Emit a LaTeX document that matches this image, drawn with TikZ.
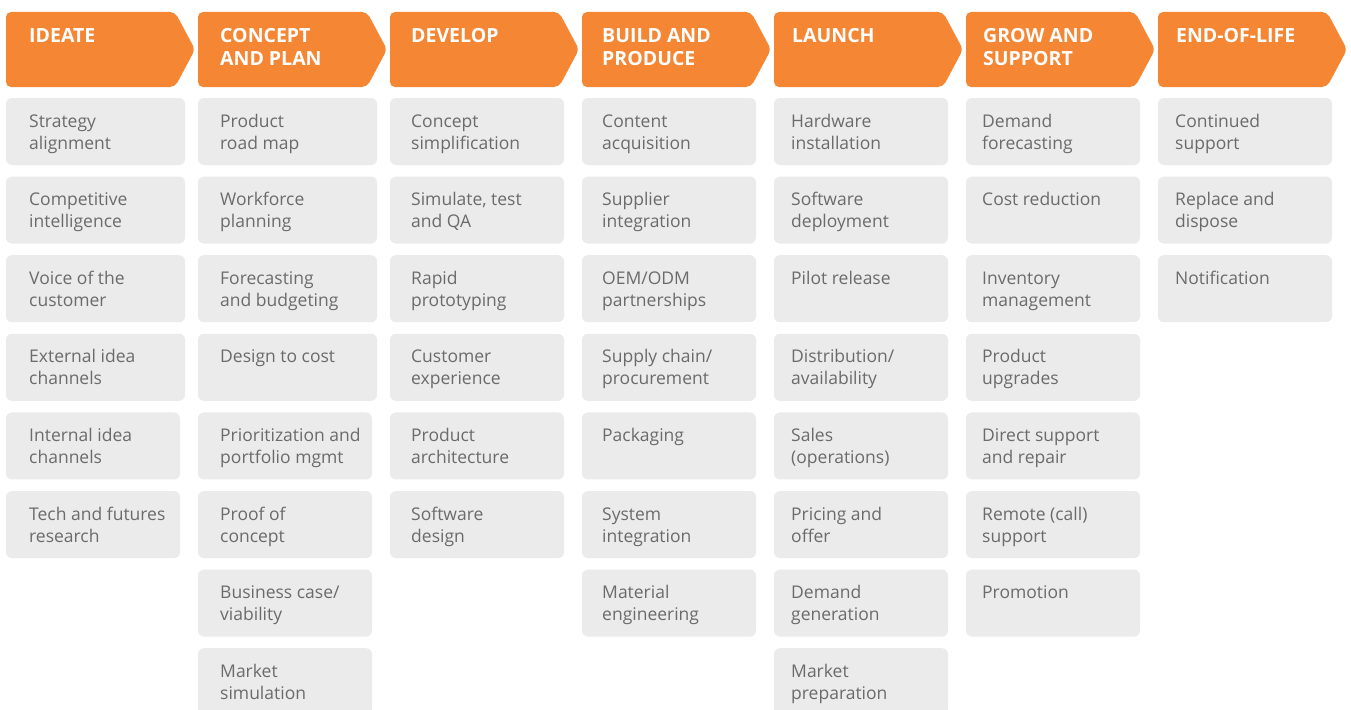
\documentclass[tikz,border=0pt]{standalone}
\usepackage{fontspec}
\setmainfont{Open Sans}
\definecolor{hdrorange}{HTML}{F58634}
\definecolor{cellgray}{HTML}{EBEBEB}
\definecolor{txtgray}{HTML}{6B6B6B}
\newcommand\twolines[2]{\vtop{\baselineskip=22pt\hbox{#1}\hbox{#2}}}
\newcommand\hdrlines[2]{\vtop{\baselineskip=23pt\hbox{#1}\hbox{#2}}}
\newcommand\mkcell[5]{%
  \pgfmathsetmacro\cx{6+192*(#1-1)}%
  \pgfmathsetmacro\tx{{29,220,411,602,791,982,1175}[#1-1]}%
  \pgfmathsetmacro\cy{98+78.6*(#2-1)}%
  \node[cellbox, minimum width=#3pt] (c#1r#2) at (\cx,\cy) {};
  \node[celltext] (t#1r#2) at (\tx,\cy+29) {\twolines{#4}{#5}};
}
\newcommand\mkhdr[3]{%
  \pgfmathsetmacro\hx{6+192*(#1-1)}%
  \pgfmathsetmacro\tx{{29,220,411,602,792,983,1176}[#1-1]}%
  \fill[hdrshape] (\hx,12) -- (\hx+169,12) -- (\hx+189,49.5) -- (\hx+169,87) -- (\hx,87) -- cycle;
  \node[hdrtext] (h#1) at (\tx,43) {\hdrlines{#2}{#3}};
}
\begin{document}
\begin{tikzpicture}[x=1pt,y=-1pt,
  cellbox/.style={fill=cellgray, rounded corners=6pt, minimum height=67pt, anchor=north west, inner sep=0pt, outer sep=0pt},
  celltext/.style={anchor=base west, inner sep=0pt, text=txtgray, font=\fontsize{17.5}{22}\selectfont},
  hdrshape/.style={fill=hdrorange, rounded corners=5pt},
  hdrtext/.style={anchor=base west, inner sep=0pt, text=white, font=\fontsize{19.5}{23}\selectfont\bfseries}]
\useasboundingbox (0,0) rectangle (1351,709);
\clip (0,0) rectangle (1351,709);
\fill[white] (0,0) rectangle (1351,709);
% headers
\mkhdr{1}{IDEATE}{}
\mkhdr{2}{CONCEPT}{AND PLAN}
\mkhdr{3}{DEVELOP}{}
\mkhdr{4}{BUILD AND}{PRODUCE}
\mkhdr{5}{LAUNCH}{}
\mkhdr{6}{GROW AND}{SUPPORT}
\mkhdr{7}{END-OF-LIFE}{}
% column 1
\mkcell{1}{1}{179}{Strategy}{alignment}
\mkcell{1}{2}{179}{Competitive}{intelligence}
\mkcell{1}{3}{179}{Voice of the}{customer}
\mkcell{1}{4}{179}{External idea}{channels}
\mkcell{1}{5}{174}{Internal idea}{channels}
\mkcell{1}{6}{174}{Tech and futures}{research}
% column 2
\mkcell{2}{1}{179}{Product}{road map}
\mkcell{2}{2}{179}{Workforce}{planning}
\mkcell{2}{3}{179}{Forecasting}{and budgeting}
\mkcell{2}{4}{179}{Design to cost}{}
\mkcell{2}{5}{174}{Prioritization and}{portfolio mgmt}
\mkcell{2}{6}{174}{Proof of}{concept}
\mkcell{2}{7}{174}{Business case/}{viability}
\mkcell{2}{8}{174}{Market}{simulation}
% column 3
\mkcell{3}{1}{174}{Concept}{simplification}
\mkcell{3}{2}{174}{Simulate, test}{and QA}
\mkcell{3}{3}{174}{Rapid}{prototyping}
\mkcell{3}{4}{174}{Customer}{experience}
\mkcell{3}{5}{174}{Product}{architecture}
\mkcell{3}{6}{174}{Software}{design}
% column 4
\mkcell{4}{1}{174}{Content}{acquisition}
\mkcell{4}{2}{174}{Supplier}{integration}
\mkcell{4}{3}{174}{OEM/ODM}{partnerships}
\mkcell{4}{4}{174}{Supply chain/}{procurement}
\mkcell{4}{5}{174}{Packaging}{}
\mkcell{4}{6}{174}{System}{integration}
\mkcell{4}{7}{174}{Material}{engineering}
% column 5
\mkcell{5}{1}{174}{Hardware}{installation}
\mkcell{5}{2}{174}{Software}{deployment}
\mkcell{5}{3}{174}{Pilot release}{}
\mkcell{5}{4}{174}{Distribution/}{availability}
\mkcell{5}{5}{174}{Sales}{(operations)}
\mkcell{5}{6}{174}{Pricing and}{offer}
\mkcell{5}{7}{174}{Demand}{generation}
\mkcell{5}{8}{174}{Market}{preparation}
% column 6
\mkcell{6}{1}{174}{Demand}{forecasting}
\mkcell{6}{2}{174}{Cost reduction}{}
\mkcell{6}{3}{174}{Inventory}{management}
\mkcell{6}{4}{174}{Product}{upgrades}
\mkcell{6}{5}{174}{Direct support}{and repair}
\mkcell{6}{6}{174}{Remote (call)}{support}
\mkcell{6}{7}{174}{Promotion}{}
% column 7
\mkcell{7}{1}{174}{Continued}{support}
\mkcell{7}{2}{174}{Replace and}{dispose}
\mkcell{7}{3}{174}{Notification}{}
\end{tikzpicture}
\end{document}
